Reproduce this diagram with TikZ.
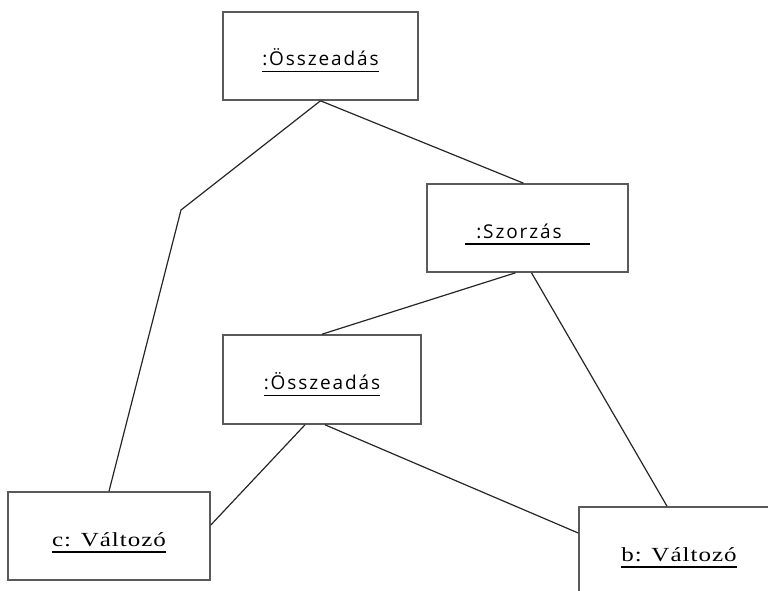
\documentclass[tikz,border=0pt]{standalone}
\usepackage{fontspec}
\usepackage{tikz}
\usetikzlibrary{calc}
\newfontfamily\objsans[LetterSpace=10]{Open Sans}
\newfontfamily\objserif[FakeStretch=1.25,LetterSpace=5]{Liberation Serif}
\definecolor{boxline}{HTML}{5A5A5A}
\definecolor{linkline}{HTML}{262626}
\newlength{\ulwd}
\newcommand{\ulname}[1]{\settowidth{\ulwd}{#1}\rlap{\rule[-6.5pt]{\ulwd}{1.5pt}}#1}
\tikzset{
  obj/.style={draw=boxline,line width=1.6pt,minimum height=88pt,text height=28pt,text depth=8pt,inner sep=0pt,font=\objsans\fontsize{19}{22}\selectfont},
  var/.style={obj,font=\objserif\fontsize{20}{22}\selectfont},
  lnk/.style={linkline,line width=1.2pt}
}

\begin{document}
\begin{tikzpicture}[x=1pt,y=-1pt]
\clip (0,0) rectangle (768,591);
\node[obj,minimum width=195pt] (add1) at (320.5,56) {\ulname{:Összeadás}};
\node[obj,minimum width=201pt] (mul) at (527.5,228) {\ulname{\hspace*{11pt}:Szorzás\hspace*{28pt}}};
\node[obj,minimum width=198pt,minimum height=89pt] (add2) at (322,379.5) {\ulname{:Összeadás}};
\node[var,minimum width=202pt] (cvar) at (109,536) {\ulname{c: Változó}};
\node[var,minimum width=200pt] (bvar) at (679,551) {\ulname{b: Változó}};
\coordinate (bend) at (181,210);
\draw[lnk] (add1.south) -- (bend) -- (cvar.north);
\draw[lnk] (add1.south) -- ([xshift=-4pt]mul.north);
\draw[lnk] ([xshift=-12pt]mul.south) -- (add2.north);
\draw[lnk] ([xshift=4pt]mul.south) -- ([xshift=-12pt]bvar.north);
\draw[lnk] ([xshift=-17pt]add2.south) -- ([yshift=11pt]cvar.east);
\draw[lnk] ([xshift=3pt]add2.south) -- ([yshift=18pt]bvar.west);
\end{tikzpicture}
\end{document}
